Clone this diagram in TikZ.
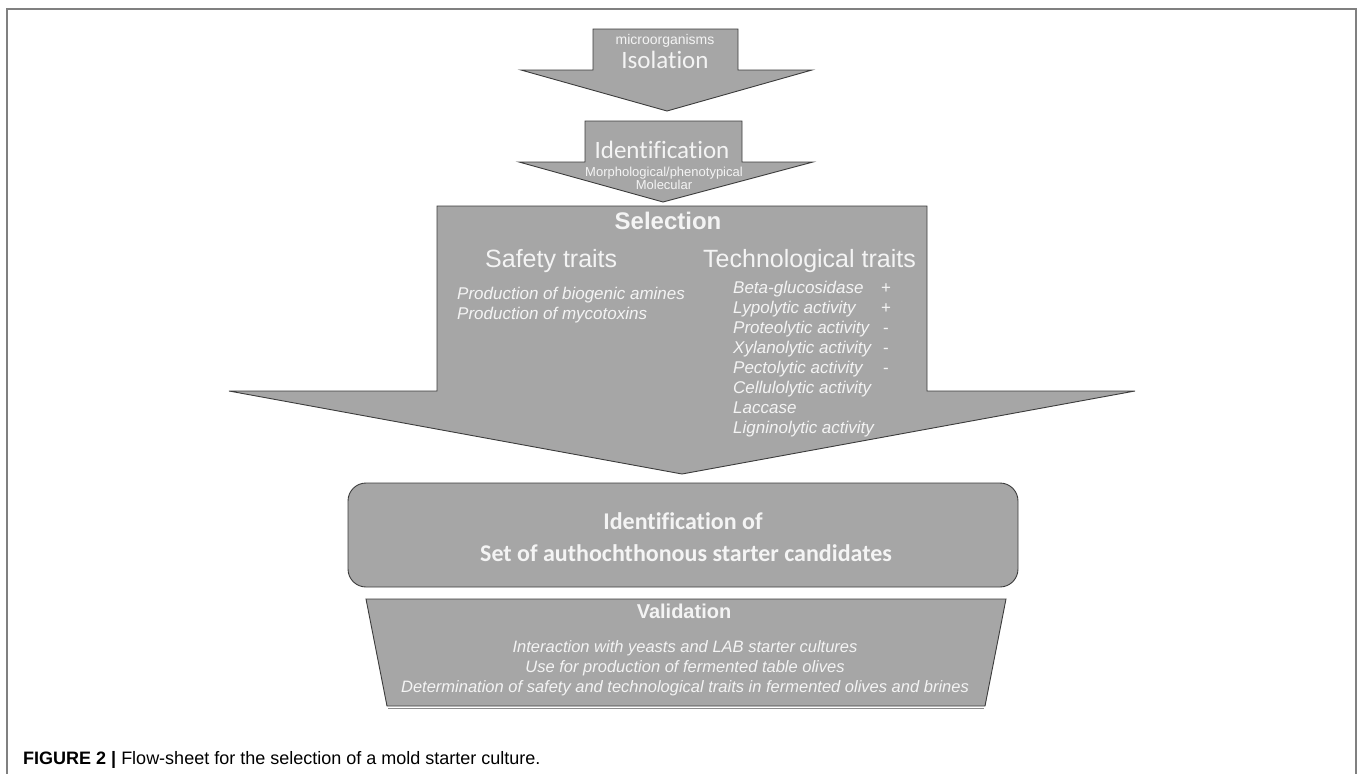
\documentclass[tikz,border=0pt]{standalone}
\usepackage{fontspec}
\setmainfont{Liberation Sans}
\newfontfamily\calibri[Ligatures=NoCommon]{Carlito}
\usepackage{tikz}

\definecolor{arrowgray}{HTML}{A6A6A6}
\definecolor{edgegray}{HTML}{3C3C3C}
\definecolor{framegray}{HTML}{808080}
\definecolor{lighttext}{HTML}{F4F4F4}

\begin{document}
\begin{tikzpicture}[x=1pt,y=-1pt,
  shapefill/.style={fill=arrowgray,draw=edgegray,line width=0.9pt},
  lighttxt/.style={text=lighttext,inner sep=0pt},
  listtxt/.style={lighttxt,anchor=base west,font=\fontsize{17}{20}\selectfont\itshape}]
\useasboundingbox (0,0) rectangle (1358,774);
\draw[framegray,line width=1.5pt] (7,774) -- (7,9) -- (1356,9) -- (1356,774);

% isolation
\draw[shapefill] (593,29) -- (738,29) -- (738,70) -- (812,70) -- (667,111) -- (521,70) -- (593,70) -- cycle;
\node[lighttxt,anchor=base,font=\fontsize{14}{16}\selectfont] (micro) at (665,44) {microorganisms};
\node[lighttxt,anchor=base,font=\calibri\fontsize{25}{30}\selectfont] (isol) at (665,68) {Isolation};

% identification
\draw[shapefill] (585,121) -- (742,121) -- (742,162) -- (813,162) -- (663,202) -- (519,162) -- (585,162) -- cycle;
\node[lighttxt,anchor=base,font=\calibri\fontsize{25}{30}\selectfont] (ident) at (662,158) {Identification};
\node[lighttxt,anchor=base,font=\fontsize{13}{15}\selectfont] (morph) at (664,176) {Morphological/phenotypical};
\node[lighttxt,anchor=base,font=\fontsize{13}{15}\selectfont] (molec) at (664,189) {Molecular};

% selection
\draw[shapefill] (437,206) -- (927,206) -- (927,391) -- (1135,391) -- (682,474) -- (229,391) -- (437,391) -- cycle;
\node[lighttxt,anchor=base,font=\bfseries\fontsize{24}{28}\selectfont] (sel) at (668,229) {Selection};
\node[lighttxt,anchor=base west,font=\fontsize{25}{30}\selectfont] (safety) at (485,267) {Safety traits};
\node[lighttxt,anchor=base west,font=\fontsize{25}{30}\selectfont] (techno) at (703,267) {Technological traits};
\node[listtxt] (safe1) at (457,299) {Production of biogenic amines};
\node[listtxt] (safe2) at (457,319) {Production of mycotoxins};
\foreach \t [count=\i] in {Beta-glucosidase,Lypolytic activity,Proteolytic activity,
    Xylanolytic activity,Pectolytic activity,Cellulolytic activity,Laccase,Ligninolytic activity} {
  \node[listtxt] (tech\i) at (733,{273+20*\i}) {\t};
}
\foreach \s [count=\i] in {+,+,-,-,-} {
  \node[lighttxt,anchor=base,font=\fontsize{17}{20}\selectfont] (sign\i) at (886,{273+20*\i}) {\s};
}

% candidates
\draw[shapefill,rounded corners=18pt] (348,483) rectangle (1018,587);
\node[lighttxt,anchor=base,font=\calibri\bfseries\fontsize{24}{28}\selectfont] (cand1) at (683,529) {Identification of};
\node[lighttxt,anchor=base,font=\calibri\bfseries\fontsize{24}{28}\selectfont] (cand2) at (686,561) {Set of authochthonous starter candidates};

% validation
\draw[shapefill] (366,599) -- (1006,599) -- (985,706) -- (387,706) -- cycle;
\draw[edgegray!60,line width=1pt] (388,708.5) -- (984,708.5);
\node[lighttxt,anchor=base,font=\bfseries\fontsize{20}{24}\selectfont] (valid) at (684,618) {Validation};
\node[listtxt,anchor=base,font=\fontsize{16.5}{20}\selectfont\itshape] (val1) at (685,652) {Interaction with yeasts and LAB starter cultures};
\node[listtxt,anchor=base,font=\fontsize{16.5}{20}\selectfont\itshape] (val2) at (685,672) {Use for production of fermented table olives};
\node[listtxt,anchor=base,font=\fontsize{16.5}{20}\selectfont\itshape] (val3) at (685,692) {Determination of safety and technological traits in fermented olives and brines};

% caption
\node[anchor=base west,inner sep=0pt,font=\fontsize{18}{22}\selectfont] (capt) at (23,764)
  {\textbf{FIGURE 2 |} Flow-sheet for the selection of a mold starter culture.};
\end{tikzpicture}
\end{document}
